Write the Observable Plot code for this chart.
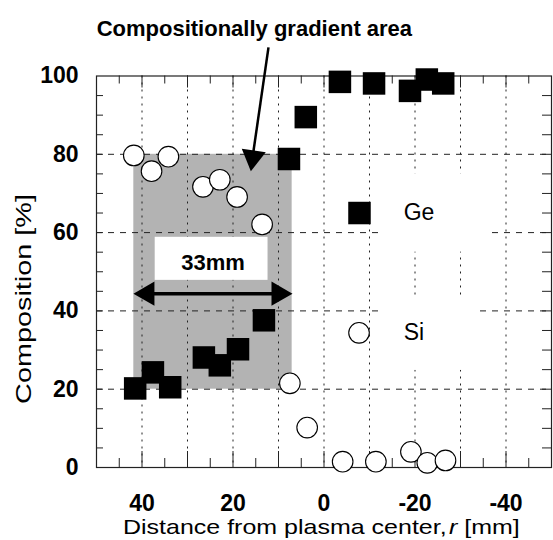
<!DOCTYPE html>
<html><head><meta charset="utf-8">
<script src="https://cdn.jsdelivr.net/npm/d3@7"></script>
<script src="https://cdn.jsdelivr.net/npm/@observablehq/plot@0.6"></script>
<style>body{margin:0;background:#fff;} svg{display:block}</style>
</head><body><div id="chart"></div>
<script>
// Ge (filled squares)
const rGe = [41.5, 37.6, 33.8, 26.4, 22.9, 18.9, 13.2, 7.7, 4.0, -3.5, -11.0, -18.9, -22.6, -26.2];
const cGe = [20.2, 24.3, 20.5, 28.1, 26.1, 30.2, 37.6, 78.8, 89.5, 98.5, 98.1, 96.2, 99.1, 98.1];
// Si (open circles)
const rSi = [41.8, 37.9, 34.2, 26.6, 22.9, 19.1, 13.6, 7.5, 3.7, -4.1, -11.4, -19.1, -22.7, -26.7];
const cSi = [79.7, 75.7, 79.4, 71.7, 73.5, 69.1, 62.1, 21.5, 10.2, 1.5, 1.5, 4.0, 1.2, 1.8];
// legend entries
const legendNames = ["Ge", "Si"];
const legendR = [-7.8, -7.7];
const legendC = [65.0, 34.4];
const legendTextR = [-17.5, -17.5];
const legendBoxR = [[-13.1, -36.2], [-13.1, -34.4]];
const legendBoxC = [[55.0, 75.0], [24.8, 43.4]];
// axes
const xTickLabels = [40, 20, 0, -20, -40];
const yTickLabels = [0, 20, 40, 60, 80, 100];
const xMajor = [40, 30, 20, 10, 0, -10, -20, -30, -40];
const xMinor = [45, 35, 25, 15, 5, -5, -15, -25, -35, -45];
const yMinor = [5, 10, 15, 20, 25, 30, 35, 40, 45, 50, 55, 60, 65, 70, 75, 80, 85, 90, 95];
const gridX = [40, 30, 20, 10, 0, -10, -20, -30, -40];
const gridY = [20, 40, 60, 80];
const xLabelParts = ["Distance from plasma center,", "r", " [mm]"];
const yLabel = "Composition [%]";
// annotations
const gradR = [41.8, 7.0];
const gradC = [20, 80];
const spanLabel = "33mm";
const spanBoxR = [37.1, 12.3];
const spanBoxC = [47.8, 58.8];
const spanLabelPos = [24.4, 52.2];
const spanArrowC = 44.4;
const spanHeadR = [38.8, 10.0];
const titleText = "Compositionally gradient area";
const titlePos = [15.3, 112.0];
const pointerFrom = [12.2, 107.3];
const pointerTo = [15.6, 80.0];
const pointerHead = [15.65, 79.2];

const ge = rGe.map((r, i) => ({r, c: cGe[i]}));
const si = rSi.map((r, i) => ({r, c: cSi[i]}));
const legend = legendNames.map((name, i) => ({
  name, r: legendR[i], c: legendC[i], tr: legendTextR[i],
  bx1: legendBoxR[i][0], bx2: legendBoxR[i][1], by1: legendBoxC[i][0], by2: legendBoxC[i][1]
}));

const H = 540 - 75.5 - 73;
const W = 553 - 96 - 2;

const plot = Plot.plot({
  width: 553,
  height: 540,
  marginLeft: 96,
  marginRight: 2,
  marginTop: 75.5,
  marginBottom: 73,
  style: {fontFamily: "'Liberation Sans', Arial, sans-serif", background: "white", color: "black"},
  x: {domain: [50, -50]},
  y: {domain: [0, 100]},
  marks: [
    Plot.rect([0], {x1: gradR[0], x2: gradR[1], y1: gradC[0], y2: gradC[1], fill: "#b3b3b3"}),
    Plot.ruleX(gridX, {stroke: "#222", strokeWidth: 1, strokeDasharray: "2,5"}),
    Plot.ruleY(gridY, {stroke: "#222", strokeWidth: 1, strokeDasharray: "6,6"}),
    // white legend boxes hide the grid behind the labels
    Plot.rect(legend, {x1: "bx1", x2: "bx2", y1: "by1", y2: "by2", fill: "white"}),
    // inner ticks
    Plot.ruleX(xMajor, {insetTop: H - 16, stroke: "#222"}),
    Plot.ruleX(xMinor, {insetTop: H - 9, stroke: "#222"}),
    Plot.ruleX(xMajor, {insetBottom: H - 12, stroke: "#222"}),
    Plot.ruleX(xMinor, {insetBottom: H - 8, stroke: "#222"}),
    Plot.ruleY(yMinor, {insetRight: W - 7, stroke: "#222"}),
    Plot.ruleY(yMinor, {insetLeft: W - 9, stroke: "#222"}),
    Plot.frame({stroke: "#222", strokeWidth: 1.2}),
    // 33mm box and arrow
    Plot.rect([0], {x1: spanBoxR[0], x2: spanBoxR[1], y1: spanBoxC[0], y2: spanBoxC[1], fill: "white"}),
    Plot.text([spanLabel], {x: spanLabelPos[0], y: spanLabelPos[1], text: d => d, fontSize: 22, fontWeight: "bold", fill: "black"}),
    Plot.link([0], {x1: gradR[0] - 2, x2: gradR[1] + 2, y1: spanArrowC, y2: spanArrowC, stroke: "black", strokeWidth: 3.5}),
    Plot.dot([0], {x: spanHeadR[0], y: spanArrowC, symbol: "triangle", r: 9, fill: "black", rotate: 270}),
    Plot.dot([0], {x: spanHeadR[1], y: spanArrowC, symbol: "triangle", r: 9, fill: "black", rotate: 90}),
    // title and pointer
    Plot.text([titleText], {x: titlePos[0], y: titlePos[1], text: d => d, fontSize: 22, fontWeight: "bold", fill: "black"}),
    Plot.link([0], {x1: pointerFrom[0], y1: pointerFrom[1], x2: pointerTo[0], y2: pointerTo[1], stroke: "black", strokeWidth: 2.5}),
    Plot.dot([0], {x: pointerHead[0], y: pointerHead[1], symbol: "triangle", r: 9, fill: "black", rotate: 188}),
    // data
    Plot.dot(si, {x: "r", y: "c", r: 10.3, fill: "white", stroke: "black", strokeWidth: 1.1}),
    Plot.dot(ge, {x: "r", y: "c", symbol: "square", r: 12.7, fill: "black"}),
    // legend
    Plot.dot(legend.filter(d => d.name === "Si"), {x: "r", y: "c", r: 10.3, fill: "white", stroke: "black", strokeWidth: 1.1}),
    Plot.dot(legend.filter(d => d.name === "Ge"), {x: "r", y: "c", symbol: "square", r: 12.7, fill: "black"}),
    Plot.text(legend, {x: "tr", y: "c", text: "name", textAnchor: "start", fontSize: 23, fill: "black"}),
    // axes
    Plot.axisX({ticks: xTickLabels, tickFormat: d => String(d), tickSize: 0, tickPadding: 27, fontSize: 23, fontWeight: "bold", label: null}),
    Plot.axisY({ticks: yTickLabels, tickFormat: d => String(d), tickSize: 0, tickPadding: 18, fontSize: 23, fontWeight: "bold", label: null})
  ]
});

document.getElementById("chart").appendChild(plot);

const svg = d3.select(plot);
// x axis label: stretched horizontally to the reference's width
const xl = svg.append("text")
  .attr("text-anchor", "start")
  .attr("font-size", 21)
  .attr("fill", "black");
xl.append("tspan").text(xLabelParts[0]);
xl.append("tspan").attr("font-style", "italic").attr("dx", 2).text(xLabelParts[1]);
xl.append("tspan").text(xLabelParts[2]);
const xlLen = xl.node().getComputedTextLength() + 2;
xl.attr("transform", `translate(123,534) scale(${397 / xlLen},1)`);

// y axis label
const yl = svg.append("text")
  .attr("text-anchor", "middle")
  .attr("font-size", 22)
  .attr("fill", "black")
  .text(yLabel);
const ylLen = yl.node().getComputedTextLength();
yl.attr("transform", `translate(31,299) rotate(-90) scale(${210 / ylLen},1)`);
</script>
</body></html>
